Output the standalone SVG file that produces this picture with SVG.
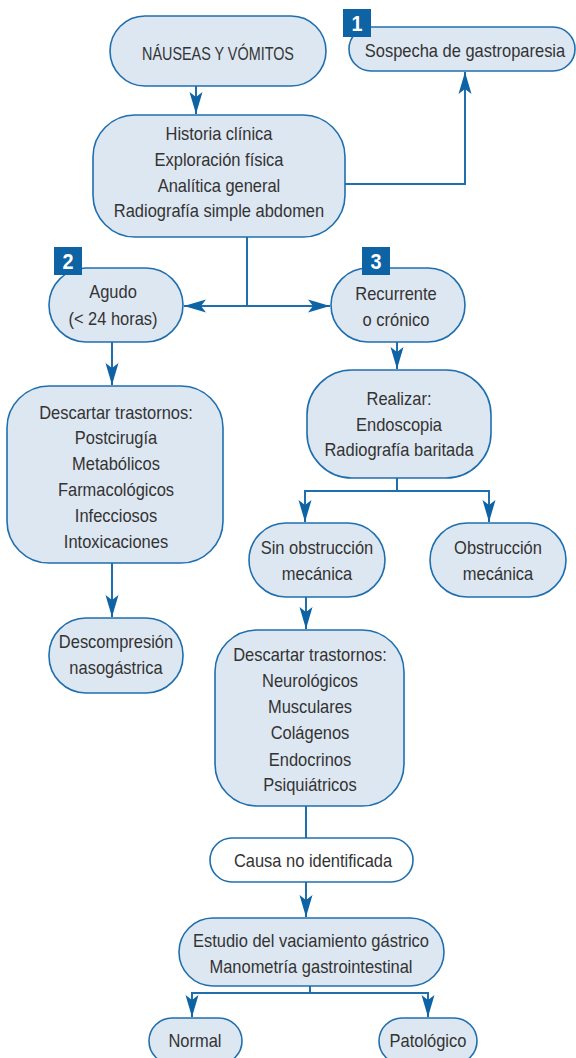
<svg xmlns="http://www.w3.org/2000/svg" width="576" height="1058" viewBox="0 0 576 1058">
<defs>
<style>
.n{fill:#dde7f2;stroke:#1f6fae;stroke-width:1.6}
.w{fill:#ffffff;stroke:#1f6fae;stroke-width:1.6}
.t{font-family:"Liberation Sans",Arial,sans-serif;font-size:18.5px;fill:#333333;text-anchor:middle;transform-box:fill-box;transform-origin:center;transform:scaleX(0.89)}
.c{font-size:18px;transform:scaleX(0.8)}
.b{fill:#0d63a3}
.bt{font-family:"Liberation Sans",Arial,sans-serif;font-size:22px;font-weight:bold;fill:#ffffff;text-anchor:middle;transform-box:fill-box;transform-origin:center;transform:scaleX(0.9)}
.e{fill:none;stroke:#1f6fae;stroke-width:2}
</style>
<marker id="ah" viewBox="-23 -8 24 16" refX="0" refY="0" markerWidth="24" markerHeight="16" markerUnits="userSpaceOnUse" orient="auto">
<path d="M0,0 L-22,-6.5 L-17,0 L-22,6.5 Z" fill="#0d63a3"/>
</marker>
</defs>
<rect width="576" height="1058" fill="#ffffff"/>

<g id="connectors">
<path class="e" d="M196,86 V114" marker-end="url(#ah)"/>
<path class="e" d="M345,184 H465 V72" marker-end="url(#ah)"/>
<path class="e" d="M247,237 V306"/>
<path class="e" d="M247,306 H184" marker-end="url(#ah)"/>
<path class="e" d="M247,306 H330" marker-end="url(#ah)"/>
<path class="e" d="M112,342 V385" marker-end="url(#ah)"/>
<path class="e" d="M397,342 V369" marker-end="url(#ah)"/>
<path class="e" d="M397,478 V491 H305 V522" marker-end="url(#ah)"/>
<path class="e" d="M397,491 H489 V522" marker-end="url(#ah)"/>
<path class="e" d="M112,563 V617" marker-end="url(#ah)"/>
<path class="e" d="M306,597 V629" marker-end="url(#ah)"/>
<path class="e" d="M306,806 V838"/>
<path class="e" d="M306,882 V917" marker-end="url(#ah)"/>
<path class="e" d="M310,986 V993 H192 V1017" marker-end="url(#ah)"/>
<path class="e" d="M310,993 H428 V1017" marker-end="url(#ah)"/>
</g>

<g id="nauseas">
<rect class="n" x="110" y="16" width="216" height="70" rx="35"/>
<text class="t c" x="218" y="60">NÁUSEAS Y VÓMITOS</text>
</g>

<g id="sospecha">
<rect class="n" x="349" y="27" width="226" height="44" rx="22"/>
<text class="t" x="465" y="57">Sospecha de gastroparesia</text>
<rect class="b" x="343" y="9" width="28" height="28"/>
<text class="bt" x="357" y="31">1</text>
</g>

<g id="historia">
<rect class="n" x="93" y="115" width="252" height="122" rx="42"/>
<text class="t" x="219" y="140">Historia clínica</text>
<text class="t" x="219" y="166">Exploración física</text>
<text class="t" x="219" y="192">Analítica general</text>
<text class="t" x="219" y="217">Radiografía simple abdomen</text>
</g>

<g id="agudo">
<rect class="n" x="49" y="268" width="134" height="74" rx="37"/>
<text class="t" x="113" y="298">Agudo</text>
<text class="t" x="113" y="325">(&lt; 24 horas)</text>
<rect class="b" x="54" y="247" width="28" height="28"/>
<text class="bt" x="68" y="269">2</text>
</g>

<g id="recurrente">
<rect class="n" x="331" y="268" width="134" height="74" rx="37"/>
<text class="t" x="396" y="300">Recurrente</text>
<text class="t" x="396" y="326">o crónico</text>
<rect class="b" x="362" y="247" width="28" height="28"/>
<text class="bt" x="376" y="269">3</text>
</g>

<g id="descartar1">
<rect class="n" x="7" y="386" width="216" height="177" rx="42"/>
<text class="t" x="116" y="419">Descartar trastornos:</text>
<text class="t" x="116" y="444">Postcirugía</text>
<text class="t" x="116" y="470">Metabólicos</text>
<text class="t" x="116" y="496">Farmacológicos</text>
<text class="t" x="116" y="522">Infecciosos</text>
<text class="t" x="116" y="548">Intoxicaciones</text>
</g>

<g id="realizar">
<rect class="n" x="307" y="370" width="184" height="108" rx="45"/>
<text class="t" x="399" y="405">Realizar:</text>
<text class="t" x="399" y="431">Endoscopia</text>
<text class="t" x="399" y="456">Radiografía baritada</text>
</g>

<g id="sinobstruccion">
<rect class="n" x="249" y="523" width="136" height="74" rx="37"/>
<text class="t" x="317" y="554">Sin obstrucción</text>
<text class="t" x="317" y="580">mecánica</text>
</g>

<g id="obstruccion">
<rect class="n" x="430" y="523" width="136" height="74" rx="37"/>
<text class="t" x="498" y="554">Obstrucción</text>
<text class="t" x="498" y="580">mecánica</text>
</g>

<g id="descompresion">
<rect class="n" x="49" y="618" width="134" height="75" rx="37"/>
<text class="t" x="116" y="648">Descompresión</text>
<text class="t" x="116" y="674">nasogástrica</text>
</g>

<g id="descartar2">
<rect class="n" x="215" y="630" width="189" height="176" rx="42"/>
<text class="t" x="310" y="661">Descartar trastornos:</text>
<text class="t" x="310" y="687">Neurológicos</text>
<text class="t" x="310" y="713">Musculares</text>
<text class="t" x="310" y="739">Colágenos</text>
<text class="t" x="310" y="766">Endocrinos</text>
<text class="t" x="310" y="791">Psiquiátricos</text>
</g>

<g id="causa">
<rect class="w" x="210" y="838" width="203" height="44" rx="22"/>
<text class="t" x="313" y="867">Causa no identificada</text>
</g>

<g id="estudio">
<rect class="n" x="179" y="918" width="265" height="68" rx="34"/>
<text class="t" x="311" y="947">Estudio del vaciamiento gástrico</text>
<text class="t" x="311" y="973">Manometría gastrointestinal</text>
</g>

<g id="normal">
<rect class="n" x="149" y="1018" width="93" height="46" rx="23"/>
<text class="t" x="195" y="1047">Normal</text>
</g>

<g id="patologico">
<rect class="n" x="379" y="1018" width="98" height="46" rx="23"/>
<text class="t" x="428" y="1047">Patológico</text>
</g>
</svg>
